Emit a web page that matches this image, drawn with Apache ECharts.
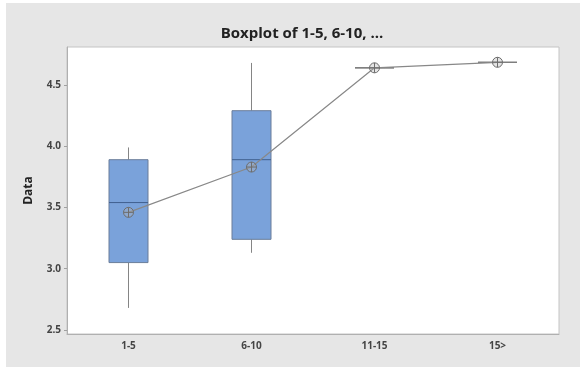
<!DOCTYPE html>
<html>
<head>
<meta charset="utf-8">
<script src="https://cdn.jsdelivr.net/npm/echarts@6/dist/echarts.min.js"></script>
<style>
  html, body { margin: 0; padding: 0; background: #ffffff; }
  #frame { position: absolute; left: 6px; top: 3px; width: 574px; height: 364px; background: #e6e6e6; }
  #chart { position: absolute; left: 0; top: 0; width: 580px; height: 371px; }
</style>
</head>
<body>
<div id="frame"></div>
<div id="chart"></div>
<script>
// Age groups on the x axis
const categories = ['1-5', '6-10', '11-15', '15>'];
// Five-number summaries: [min, Q1, median, Q3, max]
const boxStats = [
  [2.68, 3.05, 3.54, 3.89, 3.99],
  [3.13, 3.24, 3.89, 4.29, 4.68],
  [4.64, 4.64, 4.64, 4.64, 4.64],
  [4.685, 4.685, 4.685, 4.685, 4.685]
];
// Group means, joined by the connect line
const means = [3.46, 3.83, 4.64, 4.685];
// Y tick labels
const yTicks = [2.5, 3.0, 3.5, 4.0, 4.5];

const chart = echarts.init(document.getElementById('chart'), null, { renderer: 'canvas' });

const meanSymbol = 'path://M10,5 A5,5 0 1,1 0,5 A5,5 0 1,1 10,5 Z M5,0 L5,10 M0,5 L10,5';
const BOX_W = 39;

// Box with plain whiskers (no end caps), drawn on the axes' own scales
function renderBox(params, api) {
  const i = api.value(0);
  const lo = api.coord([i, api.value(1)]);
  const q1 = api.coord([i, api.value(2)]);
  const md = api.coord([i, api.value(3)]);
  const q3 = api.coord([i, api.value(4)]);
  const hi = api.coord([i, api.value(5)]);
  const x = lo[0];
  const half = BOX_W / 2;
  const flat = q1[1] - q3[1] < 1;
  const whisker = { stroke: '#858585', lineWidth: 1 };
  return {
    type: 'group',
    children: [
      { type: 'line', shape: { x1: x, y1: hi[1], x2: x, y2: q3[1] }, style: whisker },
      { type: 'line', shape: { x1: x, y1: q1[1], x2: x, y2: lo[1] }, style: whisker },
      {
        type: 'rect',
        shape: { x: x - half, y: q3[1], width: BOX_W, height: q1[1] - q3[1] },
        style: { fill: '#7aa2da', stroke: flat ? '#7d7d7d' : '#6a7d99', lineWidth: 1 }
      },
      {
        type: 'line',
        shape: { x1: x - half, y1: md[1], x2: x + half, y2: md[1] },
        style: { stroke: flat ? '#7d7d7d' : '#3f5f8e', lineWidth: 1 }
      }
    ]
  };
}

chart.setOption({
  backgroundColor: 'transparent',
  animation: false,
  title: {
    text: 'Boxplot of 1-5, 6-10, ...',
    left: 297,
    top: 21,
    textAlign: 'center',
    textStyle: { fontFamily: 'Open Sans', fontWeight: 'bold', fontSize: 15, color: '#222' }
  },
  grid: {
    left: 67, right: 21, top: 47, bottom: 37,
    show: true, backgroundColor: '#ffffff', borderColor: '#c4c4c4', borderWidth: 1
  },
  xAxis: {
    type: 'category',
    data: categories,
    boundaryGap: true,
    axisLine: { lineStyle: { color: '#b0b0b0' } },
    axisTick: { alignWithLabel: true, length: 3, lineStyle: { color: '#a0a0a0' } },
    axisLabel: { margin: 7, fontFamily: 'Open Sans', fontWeight: 'bold', fontSize: 10, color: '#444' },
    splitLine: { show: false }
  },
  yAxis: {
    type: 'value',
    min: 2.467,
    max: 4.81,
    name: 'Data',
    nameLocation: 'middle',
    nameGap: 32,
    nameTextStyle: { fontFamily: 'Open Sans', fontWeight: 'bold', fontSize: 12, color: '#222' },
    axisLine: { show: true, lineStyle: { color: '#b0b0b0' } },
    axisTick: { show: true, length: 3, customValues: yTicks, lineStyle: { color: '#a0a0a0' } },
    axisLabel: {
      customValues: yTicks,
      margin: 6,
      fontFamily: 'Open Sans', fontWeight: 'bold', fontSize: 10, color: '#444',
      formatter: v => v.toFixed(1)
    },
    splitLine: { show: false }
  },
  series: [
    {
      type: 'custom',
      renderItem: renderBox,
      data: boxStats.map((s, i) => [i].concat(s)),
      encode: { x: 0, y: [1, 2, 3, 4, 5] },
      z: 2
    },
    {
      type: 'line',
      data: means,
      symbol: meanSymbol,
      symbolSize: 10,
      lineStyle: { color: '#888888', width: 1.2 },
      itemStyle: { color: 'rgba(180,180,180,0.35)', borderColor: '#6e6e6e', borderWidth: 1 },
      z: 5
    }
  ]
});
</script>
</body>
</html>
